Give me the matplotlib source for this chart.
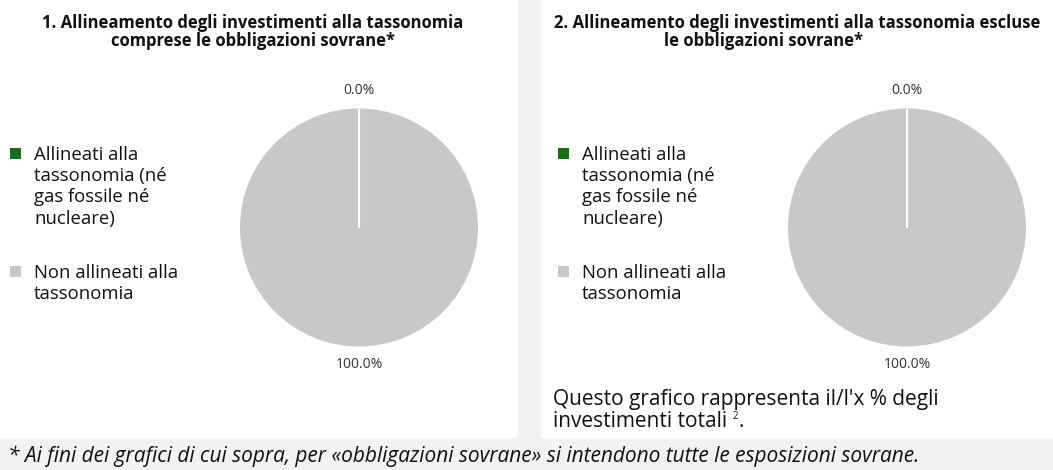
import matplotlib
matplotlib.use("Agg")
import numpy as np
import matplotlib.pyplot as plt
from matplotlib.patches import Rectangle

# ---- data ----
categories = ["Allineati alla\ntassonomia (né\ngas fossile né\nnucleare)",
              "Non allineati alla\ntassonomia"]
values_incl = [0.0, 100.0]
values_excl = [0.0, 100.0]
colors = ["#1a6e1a", "#c8c8c8"]
titles = [["1. Allineamento degli investimenti alla tassonomia",
           "comprese le obbligazioni sovrane*"],
          ["2. Allineamento degli investimenti alla tassonomia escluse",
           "le obbligazioni sovrane*"]]
note_line1 = "Questo grafico rappresenta il/l'x % degli"
note_line2 = "investimenti totali "
note_sup = "2"
footnote = "* Ai fini dei grafici di cui sopra, per «obbligazioni sovrane» si intendono tutte le esposizioni sovrane."

W, H = 1053, 470
plt.rcParams['font.family'] = ['Open Sans', 'DejaVu Sans']
fig = plt.figure(figsize=(W / 100, H / 100), dpi=100, facecolor="#f2f2f2")
TXT = "#111111"

def fx(px):
    return px / W

def fy(py):
    return 1 - py / H

# white panels
fig.add_artist(Rectangle((0, fy(438)), fx(518), 1 - fy(438), transform=fig.transFigure,
                         facecolor="white", edgecolor="none", zorder=0))
fig.add_artist(Rectangle((fx(541), fy(438)), 1 - fx(541), 1 - fy(438), transform=fig.transFigure,
                         facecolor="white", edgecolor="none", zorder=0))

R = 119
panels = [
    dict(cx=359, cy=227.5, vals=values_incl, title=titles[0], tcx=[253, 253], leg_x=10),
    dict(cx=907, cy=227.5, vals=values_excl, title=titles[1], tcx=[797, 763], leg_x=558),
]

for p in panels:
    ax = fig.add_axes([fx(p["cx"] - R), fy(p["cy"] + R), fx(2 * R), (2 * R) / H])
    ax.pie(p["vals"], colors=colors, startangle=90, counterclock=False,
           autopct="%.1f%%", pctdistance=1.15,
           wedgeprops=dict(edgecolor="none"),
           textprops=dict(fontsize=10, color="#333333"))
    # slice boundaries (white separators)
    vals = np.asarray(p["vals"], dtype=float)
    bounds = 90 - 360 * np.concatenate([[0], np.cumsum(vals)]) / vals.sum()
    for ang in np.unique(np.round(bounds % 360, 6)):
        ax.plot([0, np.cos(np.radians(ang))], [0, np.sin(np.radians(ang))],
                color="white", lw=1.5, solid_capstyle="butt")
    ax.set_xlim(-1, 1)
    ax.set_ylim(-1, 1)
    ax.set_aspect("equal")
    ax.axis("off")
    # titles
    fig.text(fx(p["tcx"][0]), fy(22.5), p["title"][0], ha="center", va="center",
             fontsize=12, fontweight="bold", color=TXT)
    fig.text(fx(p["tcx"][1]), fy(41.5), p["title"][1], ha="center", va="center",
             fontsize=12, fontweight="bold", color=TXT)
    # legend
    lx = p["leg_x"]
    first_baselines = [159.5, 277.5]
    for lab, col, b0 in zip(categories, colors, first_baselines):
        fig.add_artist(Rectangle((fx(lx), fy(b0 - 1)), fx(11), 11 / H,
                                 transform=fig.transFigure, facecolor=col,
                                 edgecolor="none"))
        for i, line in enumerate(lab.split("\n")):
            fig.text(fx(lx + 24), fy(b0 + 21.5 * i), line, ha="left", va="baseline",
                     fontsize=13.3, color=TXT)

# note in right panel
fig.text(fx(553), fy(405), note_line1, ha="left", va="baseline", fontsize=15,
         color=TXT)
t2 = fig.text(fx(553), fy(427), note_line2, ha="left", va="baseline", fontsize=15,
              color=TXT)
fig.canvas.draw()
bb = t2.get_window_extent()
sup = fig.text(bb.x1 / W, fy(411), note_sup, fontsize=7,
               color=TXT, ha="left", va="top")
fig.canvas.draw()
sb = sup.get_window_extent()
fig.text(sb.x1 / W, fy(427), ".", ha="left", va="baseline", fontsize=15, color=TXT)

# footnote
fig.text(fx(8), fy(462), footnote, ha="left", va="baseline", fontsize=15,
         style="italic", color=TXT)

fig.savefig("out.png", dpi=100, facecolor=fig.get_facecolor())
